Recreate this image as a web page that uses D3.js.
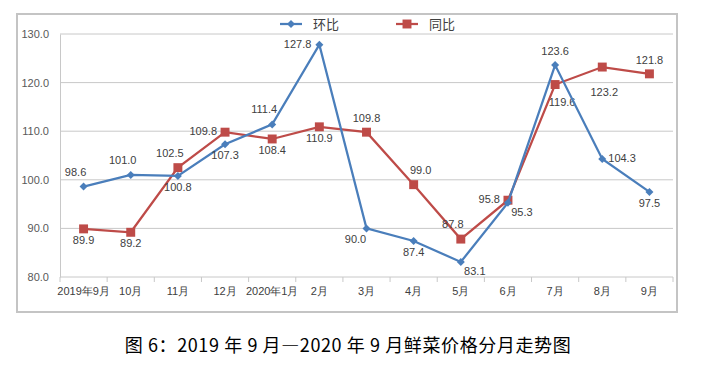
<!DOCTYPE html>
<html lang="zh">
<head>
<meta charset="UTF-8">
<title>鲜菜价格分月走势图</title>
<script src="https://d3js.org/d3.v7.min.js"></script>
<style>
  body { margin: 0; background: #fff; }
  svg { display: block; font-family: "Liberation Sans", "Noto Sans CJK SC", sans-serif; }
</style>
</head>
<body>
<svg id="chart" width="702" height="369"></svg>
<script>
// data
const months = ["2019年9月", "10月", "11月", "12月", "2020年1月", "2月", "3月", "4月", "5月", "6月", "7月", "8月", "9月"];
const huanbi = [98.6, 101.0, 100.8, 107.3, 111.4, 127.8, 90.0, 87.4, 83.1, 95.3, 123.6, 104.3, 97.5];
const tongbi = [89.9, 89.2, 102.5, 109.8, 108.4, 110.9, 109.8, 99.0, 87.8, 95.8, 119.6, 123.2, 121.8];
const yTicks = [80, 90, 100, 110, 120, 130];

// where each value label sits relative to its point
const huanbiLabelPos = ["tl", "tl", "b", "b", "tl", "l", "bl", "b", "br", "br", "t", "r", "b"];
const tongbiLabelPos = ["b", "b", "tl", "l", "b", "b", "t", "tr", "tl", "l", "br2", "bb", "t"];

const blue = "#4a7ebb", red = "#be4b48";

function program() {
  const svg = d3.select("#chart");
  const margin = { left: 60, right: 29, top: 34, bottom: 92 };
  const W = 702, H = 369;

  // outer frame
  svg.append("rect")
    .attr("x", 17).attr("y", 14).attr("width", 660).attr("height", 298)
    .attr("fill", "none").attr("stroke", "#c4c4c4").attr("stroke-width", 2);

  const x = d3.scaleBand().domain(months).range([margin.left, W - margin.right]);
  const y = d3.scaleLinear().domain([80, 130]).range([H - margin.bottom, margin.top]);

  // gridlines
  svg.append("g").selectAll("line").data(yTicks.slice(1)).join("line")
    .attr("x1", margin.left).attr("x2", W - margin.right)
    .attr("y1", d => y(d)).attr("y2", d => y(d))
    .attr("stroke", "#c8c8c8").attr("stroke-width", 1);

  // y axis
  const yAxis = svg.append("g")
    .attr("transform", `translate(${margin.left},0)`)
    .call(d3.axisLeft(y).tickValues(yTicks).tickFormat(d3.format(".1f")).tickSize(0).tickPadding(11));
  yAxis.select(".domain").attr("stroke", "#c8c8c8");
  yAxis.selectAll("text").attr("fill", "#595959").style("font-size", "11px");

  // x axis with ticks at band boundaries
  const xAxis = svg.append("g")
    .attr("transform", `translate(0,${y(80)})`)
    .call(d3.axisBottom(x).tickSize(0).tickPadding(10));
  xAxis.select(".domain").attr("stroke", "#c8c8c8").attr("d", `M${margin.left},0H${W - margin.right}`);
  xAxis.selectAll("text").attr("fill", "#404040").style("font-size", "11px");
  svg.append("g").selectAll("line").data(months.concat([null])).join("line")
    .attr("x1", (d, i) => margin.left + i * x.step()).attr("x2", (d, i) => margin.left + i * x.step())
    .attr("y1", y(80)).attr("y2", y(80) + 5)
    .attr("stroke", "#c8c8c8");

  const cx = (d, i) => x(months[i]) + x.bandwidth() / 2;
  const line = d3.line().x(cx).y(d => y(d));

  const offsets = {
    t: [0, -10, "middle"], b: [0, 15, "middle"], l: [-8, 3, "end"], r: [6, 3, "start"],
    tl: [-8, -11, "middle"], tr: [7, -11, "middle"], bl: [-11, 15, "middle"], br: [14, 13, "middle"],
    br2: [7, 21, "middle"], bb: [2, 29, "middle"]
  };

  // diamond = square turned by 45 degrees
  function drawSeries(values, color, shape, size, rotate, labelPos) {
    const g = svg.append("g");
    g.append("path").datum(values)
      .attr("d", line).attr("fill", "none")
      .attr("stroke", color).attr("stroke-width", 2.25);
    g.selectAll(".pt").data(values).join("path")
      .attr("class", "pt")
      .attr("transform", (d, i) => `translate(${cx(d, i)},${y(d)}) rotate(${rotate})`)
      .attr("d", d3.symbol().type(shape).size(size))
      .attr("fill", color);
    g.selectAll(".lbl").data(values).join("text")
      .attr("class", "lbl")
      .attr("x", (d, i) => cx(d, i) + offsets[labelPos[i]][0])
      .attr("y", (d, i) => y(d) + offsets[labelPos[i]][1])
      .attr("text-anchor", (d, i) => offsets[labelPos[i]][2])
      .attr("fill", "#404040").style("font-size", "11px")
      .text(d => d.toFixed(1));
  }

  drawSeries(tongbi, red, d3.symbolSquare, 80, 0, tongbiLabelPos);
  drawSeries(huanbi, blue, d3.symbolSquare, 32, 45, huanbiLabelPos);

  // legend
  const legend = [
    { name: "环比", color: blue, size: 32, rot: 45, x: 280 },
    { name: "同比", color: red, size: 80, rot: 0, x: 396 }
  ];
  const lg = svg.append("g").selectAll("g").data(legend).join("g")
    .attr("transform", d => `translate(${d.x},24)`);
  lg.append("line").attr("x1", 0).attr("x2", 22)
    .attr("stroke", d => d.color).attr("stroke-width", 2.25);
  lg.append("path").attr("transform", d => `translate(11,0) rotate(${d.rot})`)
    .attr("d", d => d3.symbol().type(d3.symbolSquare).size(d.size)())
    .attr("fill", d => d.color);
  lg.append("text").attr("x", 33).attr("y", 5)
    .attr("fill", "#404040").style("font-size", "13px")
    .style("font-family", "'Noto Sans CJK SC', sans-serif")
    .text(d => d.name);

  // caption
  svg.append("text")
    .attr("x", 348).attr("y", 352)
    .attr("text-anchor", "middle")
    .attr("fill", "#000")
    .style("font-size", "18px")
    .style("letter-spacing", "0.6px")
    .style("font-family", "'Noto Sans CJK SC', sans-serif")
    .text("图 6：2019 年 9 月—2020 年 9 月鲜菜价格分月走势图");
}

program();
</script>
</body>
</html>
